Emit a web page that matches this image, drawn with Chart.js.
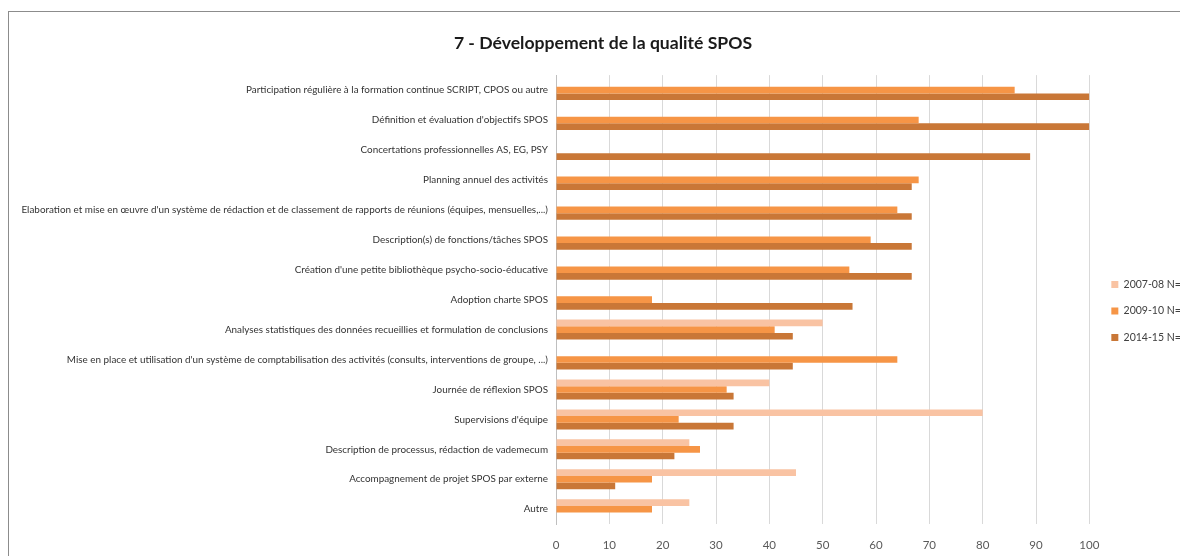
<!DOCTYPE html>
<html lang="fr">
<head>
<meta charset="utf-8">
<title>7 - Développement de la qualité SPOS</title>
<script src="https://cdn.jsdelivr.net/npm/chart.js@4.4.1/dist/chart.umd.min.js"></script>
<style>
    html, body { margin: 0; padding: 0; background: #fff; overflow: hidden; width: 1180px; height: 556px; }
    .frame { position: absolute; left: 8px; top: 11px; width: 1220px; height: 580px; border: 1px solid #8c8c8c; border-right: none; border-bottom: none; }
    #chart { position: absolute; left: 0; top: 0; }
</style>
</head>
<body>
<div class="frame"><canvas id="chart" width="1188" height="558"></canvas></div>
<script>
/* ========================================================================
   Développement de la qualité SPOS – barres horizontales groupées
   ======================================================================== */

const categories = [
    'Participation régulière à la formation continue SCRIPT, CPOS ou autre',
    "Définition et évaluation d'objectifs SPOS",
    'Concertations professionnelles AS, EG, PSY',
    'Planning annuel des activités',
    "Elaboration et mise en œuvre d'un système de rédaction et de classement de rapports de réunions (équipes, mensuelles,...)",
    'Description(s) de fonctions/tâches SPOS',
    "Création d'une petite bibliothèque psycho-socio-éducative",
    'Adoption charte SPOS',
    'Analyses statistiques des données recueillies et formulation de conclusions',
    "Mise en place et utilisation d'un système de comptabilisation des activités (consults, interventions de groupe, ...)",
    'Journée de réflexion SPOS',
    "Supervisions d'équipe",
    'Description de processus, rédaction de vademecum',
    'Accompagnement de projet SPOS par externe',
    'Autre'
];

const seriesLabels = ['2007-08 N=21', '2009-10 N=22', '2014-15 N=9'];

// values in %
const values2007 = [null, null, null, null, null, null, null, null, 50, null, 40, 80, 25, 45, 25];
const values2009 = [86, 68, null, 68, 64, 59, 55, 18, 41, 64, 32, 23, 27, 18, 18];
const values2014 = [100, 100, 88.9, 66.7, 66.7, 66.7, 66.7, 55.6, 44.4, 44.4, 33.3, 33.3, 22.2, 11.1, null];

const xTicks = [0, 10, 20, 30, 40, 50, 60, 70, 80, 90, 100];

const colors = ['#f9c3a3', '#f69546', '#c97737'];
const FONT = "Lato, 'DejaVu Sans Condensed', sans-serif";

document.addEventListener('DOMContentLoaded', () => {
    renderChart();
});

// nudge the legend away from the plot and down, like the original
const legendShift = {
    id: 'legendShift',
    afterLayout(chart) {
        const lg = chart.legend;
        if (!lg) return;
        lg.left += 6; lg.right += 6;
        lg.top += 22; lg.bottom += 22;
    }
};

function renderChart() {
    const ctx = document.getElementById('chart');
    if (!ctx) return;
    const seriesValues = [values2007, values2009, values2014];

    new Chart(ctx, {
        type: 'bar',
        data: {
            labels: categories,
            datasets: seriesLabels.map((label, i) => ({
                label: label,
                data: seriesValues[i],
                backgroundColor: colors[i],
                borderWidth: 0,
                categoryPercentage: 0.667,
                barPercentage: 1
            }))
        },
        options: {
            indexAxis: 'y',
            responsive: false,
            animation: false,
            devicePixelRatio: 1,
            layout: { padding: { top: 0, right: 0, bottom: 4, left: 0 } },
            plugins: {
                title: {
                    display: true,
                    text: '7 - Développement de la qualité SPOS',
                    color: '#1a1a1a',
                    font: { family: FONT, size: 17.6, weight: 'bold' },
                    padding: { top: 21, bottom: 21 }
                },
                legend: {
                    position: 'right',
                    labels: {
                        boxWidth: 7, boxHeight: 7, padding: 16,
                        color: '#404040',
                        font: { family: FONT, size: 10.5 }
                    }
                },
                tooltip: { enabled: false }
            },
            scales: {
                x: {
                    min: 0, max: 100,
                    afterBuildTicks: s => { s.ticks = xTicks.map(v => ({ value: v })); },
                    grid: { color: '#d9d9d9', drawTicks: false },
                    border: { display: false },
                    ticks: { padding: 14, color: '#595959', font: { family: FONT, size: 11.5 }, maxRotation: 0 }
                },
                y: {
                    afterFit: s => { s.width = 547; },
                    grid: { display: false, drawTicks: false },
                    border: { display: true, color: '#bfbfbf' },
                    ticks: { padding: 8, color: '#333333', autoSkip: false, font: { family: FONT, size: 9.9 } }
                }
            }
        },
        plugins: [legendShift]
    });
}
</script>
</body>
</html>
